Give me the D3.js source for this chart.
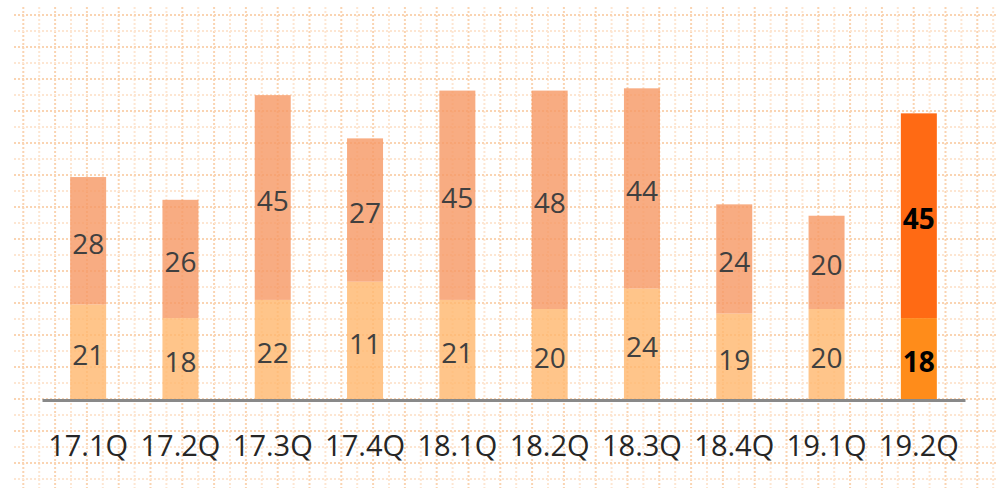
<!DOCTYPE html>
<html lang="en">
<head>
    <meta charset="UTF-8">
    <title>Quarterly stacked bars</title>
    <script src="https://d3js.org/d3.v7.min.js"></script>
    <style>
        html, body { margin: 0; padding: 0; background: #fff; }
        body { font-family: "Open Sans", "Noto Sans", sans-serif; }
    </style>
</head>
<body>
    <div id="chart"></div>
    <script>
// quarters along the x axis
const quarters = ["17.1Q", "17.2Q", "17.3Q", "17.4Q", "18.1Q", "18.2Q", "18.3Q", "18.4Q", "19.1Q", "19.2Q"];

// printed segment values
const lowerLabels = [21, 18, 22, 11, 21, 20, 24, 19, 20, 18];
const upperLabels = [28, 26, 45, 27, 45, 48, 44, 24, 20, 45];

// segment heights as drawn (17.4Q is drawn taller than its labels)
const lowerValues = [21, 18, 22, 26, 22, 20, 24.5, 19, 20, 18];
const upperValues = [28, 26, 45, 31.5, 46, 48, 44, 24, 20.5, 45];

const width = 996, height = 488;

const svg = d3.select("#chart").append("svg")
  .attr("width", width)
  .attr("height", height);

// dotted background grid
const grid = svg.append("g");
const gx = d3.range(23.3, width, 15.9);
const gy = d3.range(15, height, 16);
grid.selectAll("line.v")
  .data(gx)
  .enter().append("line")
  .attr("x1", d => d).attr("x2", d => d)
  .attr("y1", 7).attr("y2", height)
  .attr("stroke", (d, i) => i % 2 ? "#fde6d2" : "#fad4b2")
  .attr("stroke-width", 2)
  .attr("stroke-dasharray", "2,2");
grid.selectAll("line.h")
  .data(gy)
  .enter().append("line")
  .attr("x1", 14).attr("x2", width)
  .attr("y1", d => d).attr("y2", d => d)
  .attr("stroke", (d, i) => i % 2 ? "#fde6d2" : "#fad4b2")
  .attr("stroke-width", 2)
  .attr("stroke-dasharray", "2,2");

const x = d3.scaleBand()
  .domain(quarters)
  .range([42, 965])
  .paddingInner(0.61)
  .paddingOuter(0.305);

const y = d3.scaleLinear()
  .domain([0, 80])
  .range([400, 36]);

const last = quarters.length - 1;
const rows = quarters.map((q, i) => ({
  q, i,
  lo: lowerValues[i], up: upperValues[i],
  loLabel: lowerLabels[i], upLabel: upperLabels[i]
}));

const bars = svg.append("g");

// lower segment
bars.selectAll("rect.lo")
  .data(rows)
  .enter().append("rect")
  .attr("x", d => x(d.q))
  .attr("width", x.bandwidth())
  .attr("y", d => y(d.lo))
  .attr("height", d => y(0) - y(d.lo))
  .attr("fill", d => d.i === last ? "#ff8c1a" : "#ffb870")
  .attr("fill-opacity", d => d.i === last ? 1 : 0.82);

// upper segment
bars.selectAll("rect.up")
  .data(rows)
  .enter().append("rect")
  .attr("x", d => x(d.q))
  .attr("width", x.bandwidth())
  .attr("y", d => y(d.lo + d.up))
  .attr("height", d => y(d.lo) - y(d.lo + d.up))
  .attr("fill", d => d.i === last ? "#ff6a14" : "#f79a66")
  .attr("fill-opacity", d => d.i === last ? 1 : 0.82);

// segment labels
const labels = svg.append("g")
  .attr("text-anchor", "middle")
  .attr("dominant-baseline", "central");

labels.selectAll("text.lo")
  .data(rows)
  .enter().append("text")
  .attr("x", d => x(d.q) + x.bandwidth() / 2)
  .attr("y", d => (y(0) + y(d.lo)) / 2 + 2)
  .attr("font-size", 28)
  .attr("font-weight", d => d.i === last ? "bold" : "normal")
  .attr("fill", d => d.i === last ? "#000" : "#404040")
  .text(d => d.loLabel);

labels.selectAll("text.up")
  .data(rows)
  .enter().append("text")
  .attr("x", d => x(d.q) + x.bandwidth() / 2)
  .attr("y", d => (y(d.lo) + y(d.lo + d.up)) / 2 + 2)
  .attr("font-size", 28)
  .attr("font-weight", d => d.i === last ? "bold" : "normal")
  .attr("fill", d => d.i === last ? "#000" : "#404040")
  .text(d => d.upLabel);

// x axis
const xAxis = svg.append("g")
  .attr("transform", `translate(0,${y(0)})`)
  .call(d3.axisBottom(x).tickSize(0).tickPadding(0));
xAxis.select(".domain")
  .attr("stroke", "#898989")
  .attr("stroke-width", 3);
xAxis.selectAll(".tick text")
  .attr("dy", 0)
  .attr("y", 56)
  .attr("font-family", "'Open Sans', 'Noto Sans', sans-serif")
  .attr("font-size", 29)
  .attr("fill", "#262626");
    </script>
</body>
</html>
